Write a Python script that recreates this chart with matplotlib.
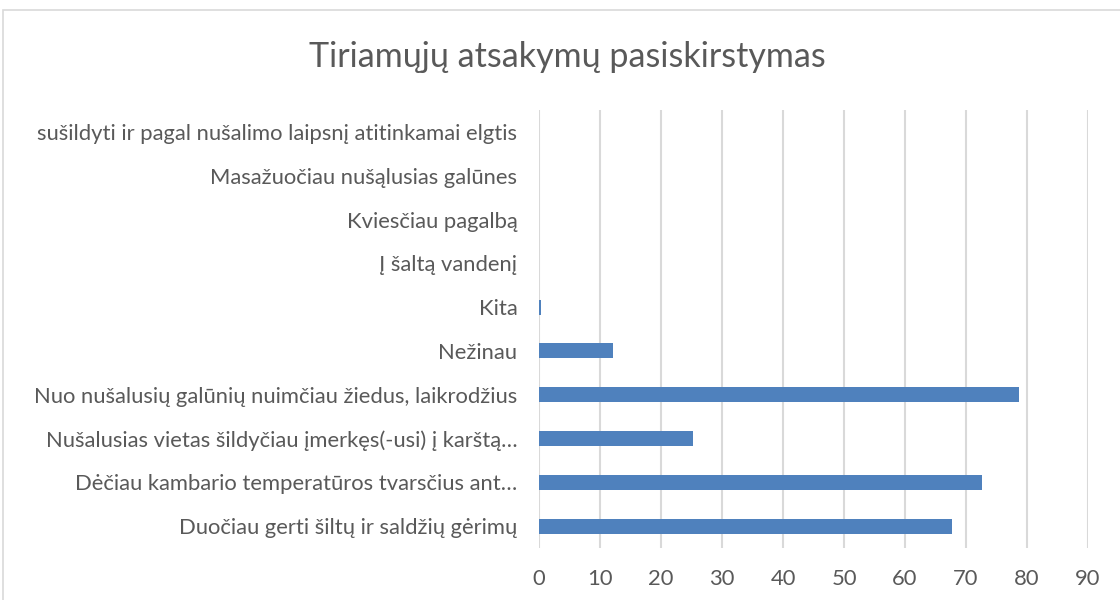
import matplotlib
matplotlib.use("Agg")
import matplotlib.pyplot as plt
from matplotlib.patches import Rectangle

categories = [
    "Duočiau gerti šiltų ir saldžių gėrimų",
    "Dėčiau kambario temperatūros tvarsčius ant…",
    "Nušalusias vietas šildyčiau įmerkęs(-usi) į karštą…",
    "Nuo nušalusių galūnių nuimčiau žiedus, laikrodžius",
    "Nežinau",
    "Kita",
    "Į šaltą vandenį",
    "Kviesčiau pagalbą",
    "Masažuočiau nušąlusias galūnes",
    "sušildyti ir pagal nušalimo laipsnį atitinkamai elgtis",
]
values = [67.7, 72.6, 25.2, 78.7, 12.1, 0.4, 0, 0, 0, 0]
xticks = [0, 10, 20, 30, 40, 50, 60, 70, 80, 90]
title = "Tiriamųjų atsakymų pasiskirstymas"

W, H = 1120, 600
fig = plt.figure(figsize=(W / 100, H / 100), dpi=100)
fig.patch.set_facecolor("white")

# outer chart border (partially cropped)
fig.patches.append(Rectangle((3 / W, -0.2), 1.5, 0.2 + (1 - 10 / H),
                             transform=fig.transFigure, fill=False,
                             edgecolor="#d9d9d9", linewidth=1.2))

ax = fig.add_axes([539 / W, 1 - 548 / H, (1088 - 539) / W, (548 - 110) / H])
ypos = list(range(len(categories)))
ax.barh(ypos, values, height=0.345, color="#4f81bd", linewidth=0, zorder=3)
ax.set_xlim(0, 90)
ax.set_ylim(-0.5, len(categories) - 0.5)
ax.set_xticks(xticks)
ax.set_xticklabels([str(t) for t in xticks])
ax.set_yticks(ypos)
ax.set_yticklabels(categories)

font = "Lato"
for lab in ax.get_yticklabels():
    lab.set_fontfamily(font)
    lab.set_fontsize(15.8)
    lab.set_color("#595959")
for lab in ax.get_xticklabels():
    lab.set_fontfamily(font)
    lab.set_fontsize(15.8)
    lab.set_color("#595959")

ax.tick_params(axis="y", length=0, pad=15.5)
ax.tick_params(axis="x", length=0, pad=15)
ax.grid(axis="x", color="#d9d9d9", linewidth=1.5, zorder=0)
for s in ax.spines.values():
    s.set_visible(False)

fig.text(567 / W, 1 - 57 / H, title, ha="center", va="center",
         fontfamily=font, fontsize=24.5, color="#595959")

fig.savefig("out.png", dpi=100)
